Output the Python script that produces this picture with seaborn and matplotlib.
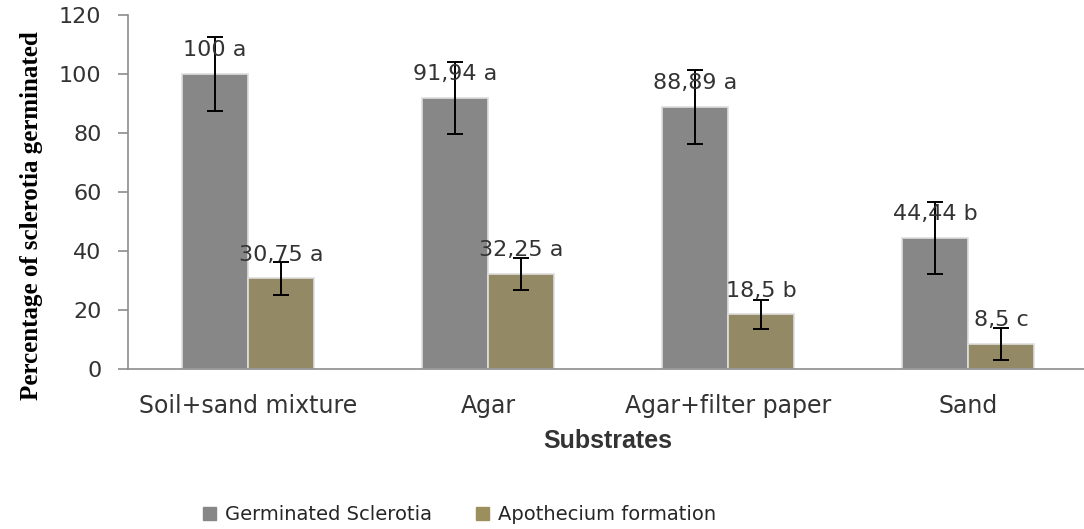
import numpy as np
import pandas as pd
import matplotlib
matplotlib.use("Agg")
import matplotlib.pyplot as plt
import seaborn as sns

sns.set_style("white")

# data
substrates = ["Soil+sand mixture", "Agar", "Agar+filter paper", "Sand"]
series = ["Germinated Sclerotia", "Apothecium formation"]
germinated = [100, 91.94, 88.89, 44.44]
apothecium = [30.75, 32.25, 18.5, 8.5]
germinated_err = [12.5, 12.3, 12.5, 12.3]
apothecium_err = [5.5, 5.5, 5.0, 5.3]
germinated_lbl = ["100 a", "91,94 a", "88,89 a", "44,44 b"]
apothecium_lbl = ["30,75 a", "32,25 a", "18,5 b", "8,5 c"]

colors = ["#878787", "#9b8f5d"]

df = pd.DataFrame({
    "Substrate": substrates * 2,
    "Series": [series[0]] * 4 + [series[1]] * 4,
    "Value": germinated + apothecium,
})

fig = plt.figure(figsize=(10.84, 5.29), dpi=100)
ax = fig.add_axes([0.118, 0.3025, 0.8856, 0.669])

sns.barplot(data=df, x="Substrate", y="Value", hue="Series", order=substrates,
            hue_order=series, palette=colors, width=0.55, errorbar=None,
            edgecolor="#dedede", linewidth=1.2, ax=ax, legend=True)

txt = "#333333"
errs = [germinated_err, apothecium_err]
lbls = [germinated_lbl, apothecium_lbl]
for cont, err, lab in zip(ax.containers, errs, lbls):
    for bar, e, t in zip(cont, err, lab):
        xc = bar.get_x() + bar.get_width() / 2
        h = bar.get_height()
        ax.errorbar(xc, h, yerr=e, fmt="none", ecolor="black", elinewidth=1.4,
                    capsize=5.5, capthick=1.4, zorder=5)
        ax.annotate(t, (xc, h), xytext=(0, 17), textcoords="offset points",
                    ha="center", va="center", fontsize=16, color=txt,
                    family="DejaVu Sans", zorder=6)

ax.set_ylim(0, 120)
ax.set_yticks(np.arange(0, 121, 20))
ax.set_xlim(-0.5, 3.5)
ax.set_xticks(np.arange(-0.5, 3.6, 1), minor=True)
ax.tick_params(axis="x", which="major", length=0, pad=18, labelsize=17,
               labelcolor=txt)
ax.tick_params(axis="x", which="minor", length=7, color="#8c8c8c", width=1.2,
               direction="out")
ax.tick_params(axis="y", length=7, color="#8c8c8c", width=1.2, direction="out",
               labelsize=16, labelcolor=txt, pad=12, left=True)
for lab in ax.get_xticklabels() + ax.get_yticklabels():
    lab.set_family("DejaVu Sans")

for s in ["top", "right"]:
    ax.spines[s].set_visible(False)
for s in ["left", "bottom"]:
    ax.spines[s].set_color("#8c8c8c")
    ax.spines[s].set_linewidth(1.2)

ax.set_xlabel("Substrates", fontsize=18, fontweight="bold", color=txt,
              family="Liberation Sans", labelpad=8)
ax.set_ylabel("Percentage of sclerotia germinated", fontsize=18,
              fontweight="bold", color="black", family="Liberation Serif")
ax.yaxis.set_label_coords(-0.088, 0.432)

ax.get_legend().remove()
handles = [plt.Rectangle((0, 0), 1, 1, color=c) for c in colors]
fig.legend(handles, series, loc="center", bbox_to_anchor=(0.424, 0.027),
           ncol=2, frameon=False, handlelength=0.65, handleheight=0.65,
           handletextpad=0.45, columnspacing=2.3,
           prop={"family": "DejaVu Sans", "size": 14})

fig.savefig("out.png", dpi=100)
